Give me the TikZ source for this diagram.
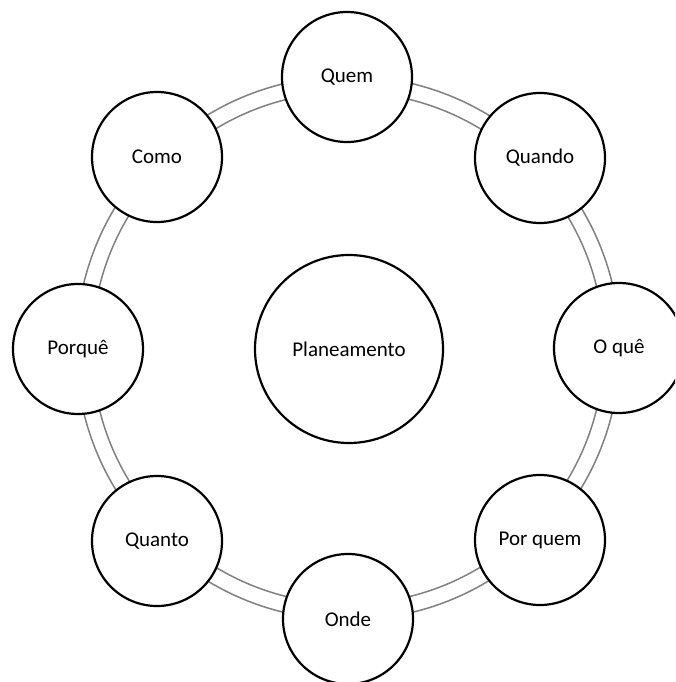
\documentclass[tikz,border=0pt]{standalone}
\usepackage{fontspec}
\setmainfont{Carlito}
\begin{document}
\begin{tikzpicture}[x=1pt,y=-1pt,
  ringline/.style={draw=black!50,line width=1.5pt},
  bubble/.style={circle,draw=black,line width=2.2pt,fill=white,minimum size=130pt,inner sep=0pt,
    font=\fontsize{21}{25}\selectfont},
  hub/.style={bubble,minimum size=188pt}]
\useasboundingbox (0,0) rectangle (675,682);
\clip (0,0) rectangle (675,682);
\coordinate (c) at (348,348);
\draw[ringline] (c) circle[radius=256pt];
\draw[ringline] (c) circle[radius=272pt];
\node[hub] (plan) at (349,349) {Planeamento};
\node[bubble] (quem) at (347,77) {Quem};
\node[bubble] (quando) at (540,158) {Quando};
\node[bubble] (oque) at (619,348) {O quê};
\node[bubble] (porquem) at (540,540) {Por quem};
\node[bubble] (onde) at (348,619) {Onde};
\node[bubble] (quanto) at (157,541) {Quanto};
\node[bubble] (porque) at (78,349) {Porquê};
\node[bubble] (como) at (157,157) {Como};
\end{tikzpicture}
\end{document}
